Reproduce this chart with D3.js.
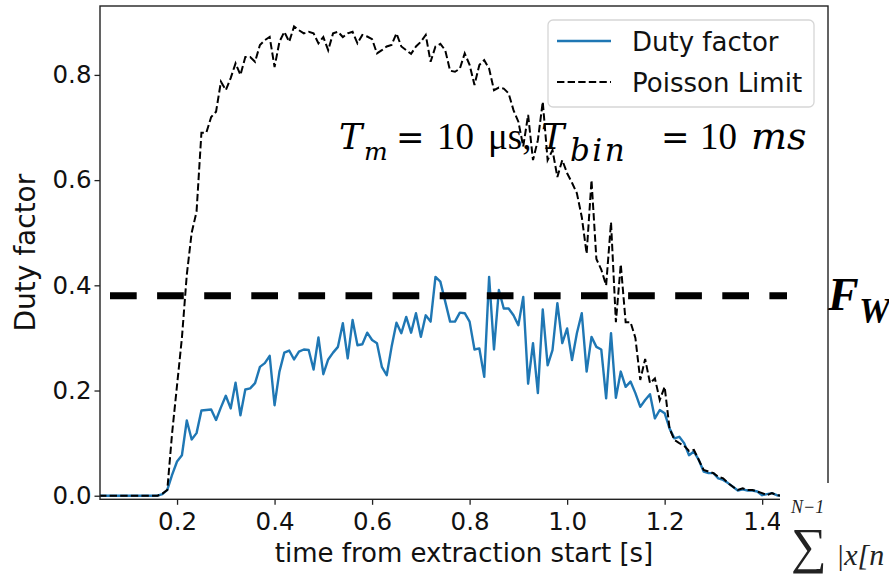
<!DOCTYPE html>
<html>
<head>
<meta charset="utf-8">
<script src="https://cdn.jsdelivr.net/npm/d3@7"></script>
<style>
  body { margin: 0; background: #fff; }
  svg { display: block; font-family: "DejaVu Sans", sans-serif; }
</style>
</head>
<body>
<svg width="889" height="576"></svg>
<script>
// 10 ms bins, first bin at 0.04 s
const binStart = 0.04;
const binWidth = 0.01;

const dutyFactor = [
  0, 0, 0, 0, 0, 0, 0, 0, 0, 0,
  0, 0, 0, 0.003, 0.011, 0.04, 0.065, 0.077, 0.143, 0.107,
  0.119, 0.162, 0.163, 0.164, 0.144, 0.168, 0.19, 0.166, 0.215, 0.153,
  0.202, 0.204, 0.214, 0.245, 0.252, 0.266, 0.172, 0.236, 0.272, 0.276,
  0.259, 0.274, 0.278, 0.277, 0.240, 0.301, 0.231, 0.259, 0.272, 0.283,
  0.328, 0.261, 0.334, 0.286, 0.288, 0.310, 0.296, 0.290, 0.245, 0.229,
  0.283, 0.329, 0.309, 0.340, 0.310, 0.347, 0.302, 0.343, 0.331, 0.416,
  0.407, 0.369, 0.331, 0.331, 0.348, 0.347, 0.331, 0.278, 0.280, 0.226,
  0.416, 0.278, 0.391, 0.356, 0.356, 0.343, 0.324, 0.378, 0.213, 0.290,
  0.195, 0.354, 0.248, 0.277, 0.366, 0.290, 0.318, 0.258, 0.309, 0.347,
  0.236, 0.302, 0.283, 0.278, 0.185, 0.309, 0.186, 0.236, 0.207, 0.217,
  0.195, 0.169, 0.182, 0.193, 0.147, 0.163, 0.157, 0.128, 0.109, 0.112,
  0.100, 0.077, 0.084, 0.068, 0.046, 0.043, 0.043, 0.033, 0.030, 0.024,
  0.017, 0.010, 0.012, 0.010, 0.010, 0.008, 0.001, 0.003, 0.005, 0.001,
  0
];

const poissonLimit = [
  0, 0, 0, 0, 0, 0, 0, 0, 0, 0,
  0, 0, 0, 0.004, 0.011, 0.12, 0.21, 0.30, 0.42, 0.50,
  0.54, 0.69, 0.69, 0.72, 0.73, 0.787, 0.771, 0.794, 0.822, 0.80,
  0.834, 0.834, 0.825, 0.857, 0.866, 0.872, 0.815, 0.863, 0.882, 0.863,
  0.892, 0.885, 0.879, 0.882, 0.879, 0.860, 0.872, 0.847, 0.879, 0.882,
  0.872, 0.879, 0.882, 0.860, 0.876, 0.873, 0.868, 0.841, 0.847, 0.854,
  0.857, 0.879, 0.854, 0.847, 0.840, 0.854, 0.863, 0.876, 0.825, 0.854,
  0.859, 0.847, 0.808, 0.806, 0.812, 0.841, 0.819, 0.781, 0.819, 0.828,
  0.812, 0.771, 0.776, 0.774, 0.765, 0.733, 0.711, 0.664, 0.724, 0.638,
  0.676, 0.749, 0.638, 0.657, 0.606, 0.638, 0.613, 0.595, 0.575, 0.53,
  0.46, 0.60, 0.45, 0.43, 0.40, 0.52, 0.33, 0.44, 0.33, 0.33,
  0.30, 0.22, 0.26, 0.214, 0.223, 0.182, 0.207, 0.128, 0.106, 0.100,
  0.095, 0.085, 0.087, 0.068, 0.049, 0.046, 0.043, 0.036, 0.033, 0.024,
  0.017, 0.011, 0.014, 0.011, 0.011, 0.008, 0.005, 0.001, 0.005, 0.001,
  0
];

const xTicks = [0.2, 0.4, 0.6, 0.8, 1.0, 1.2, 1.4];
const yTicks = [0.0, 0.2, 0.4, 0.6, 0.8];
const xDomain = [0.042, 1.535];
const yDomain = [-0.0068, 0.931];
const fwLevel = 0.38;
const legendLabels = ['Duty factor', 'Poisson Limit'];

const svg = d3.select('svg');
const plot = { left: 100, right: 828, top: 6, bottom: 499.3 };

const x = d3.scaleLinear().domain(xDomain).range([plot.left, plot.right]);
const y = d3.scaleLinear().domain(yDomain).range([plot.bottom, plot.top]);

svg.append('defs').append('clipPath')
  .attr('id', 'clip')
  .append('rect')
  .attr('x', plot.left)
  .attr('y', plot.top)
  .attr('width', plot.right - plot.left)
  .attr('height', plot.bottom - plot.top);

// axes
const xAxisG = svg.append('g')
  .attr('transform', `translate(0,${plot.bottom})`)
  .call(d3.axisBottom(x).tickValues(xTicks).tickFormat(d3.format('.1f')).tickSize(5.5).tickPadding(8));
xAxisG.select('.domain').remove();

const yAxisG = svg.append('g')
  .attr('transform', `translate(${plot.left},0)`)
  .call(d3.axisLeft(y).tickValues(yTicks).tickFormat(d3.format('.1f')).tickSize(5.5).tickPadding(3));
yAxisG.select('.domain').remove();

svg.selectAll('.tick text')
  .attr('font-family', '"DejaVu Sans", sans-serif')
  .attr('font-size', 24.5)
  .attr('fill', '#111');
svg.selectAll('.tick line').attr('stroke', '#222').attr('stroke-width', 1.3);

svg.append('text')
  .attr('x', (plot.left + plot.right) / 2)
  .attr('y', 562)
  .attr('text-anchor', 'middle')
  .attr('font-size', 26)
  .attr('fill', '#111')
  .text('time from extraction start [s]');

svg.append('text')
  .attr('transform', `translate(35,${(plot.top + plot.bottom) / 2})rotate(-90)`)
  .attr('text-anchor', 'middle')
  .attr('font-size', 28)
  .attr('fill', '#111')
  .text('Duty factor');

// lines
const line = d3.line()
  .x((d, i) => x(binStart + i * binWidth))
  .y(d => y(d));

const lines = svg.append('g').attr('clip-path', 'url(#clip)');
lines.append('path')
  .datum(dutyFactor)
  .attr('d', line)
  .attr('fill', 'none')
  .attr('stroke', '#1f77b4')
  .attr('stroke-width', 2.4)
  .attr('stroke-linejoin', 'round');
lines.append('path')
  .datum(poissonLimit)
  .attr('d', line)
  .attr('fill', 'none')
  .attr('stroke', '#000')
  .attr('stroke-width', 2)
  .attr('stroke-dasharray', '7.4,3.2');

// frame
svg.append('rect')
  .attr('x', plot.left)
  .attr('y', plot.top)
  .attr('width', plot.right - plot.left)
  .attr('height', plot.bottom - plot.top)
  .attr('fill', 'none')
  .attr('stroke', '#222')
  .attr('stroke-width', 1.4);

// legend
const legend = svg.append('g');
legend.append('rect')
  .attr('x', 548).attr('y', 20)
  .attr('width', 266).attr('height', 87)
  .attr('rx', 5)
  .attr('fill', 'rgba(255,255,255,0.85)')
  .attr('stroke', '#d6d6d6')
  .attr('stroke-width', 1.3);
legendLabels.forEach((label, i) => {
  const ly = 41 + i * 41;
  const sample = legend.append('line')
    .attr('x1', 557).attr('x2', 611)
    .attr('y1', ly).attr('y2', ly);
  if (i === 0) {
    sample.attr('stroke', '#1f77b4').attr('stroke-width', 2.4);
  } else {
    sample.attr('stroke', '#000').attr('stroke-width', 2).attr('stroke-dasharray', '7.4,3.2');
  }
  legend.append('text')
    .attr('x', 632)
    .attr('y', ly + 9.5)
    .attr('font-size', 26)
    .attr('fill', '#111')
    .text(label);
});

// thick dashed F_W marker
svg.append('line')
  .attr('x1', 110).attr('x2', 787)
  .attr('y1', y(fwLevel)).attr('y2', y(fwLevel))
  .attr('stroke', '#000')
  .attr('stroke-width', 7)
  .attr('stroke-dasharray', '26.7,20.4');

// annotation T_m, T_bin
const mathIt = '"DejaVu Serif", serif';
const mathUp = '"Liberation Serif", "DejaVu Serif", serif';
const note = svg.append('g').attr('fill', '#000');
const noteParts = [
  { t: 'T', x: 339, y: 149, s: 35, f: mathIt, it: true },
  { t: 'm', x: 364, y: 160, s: 25, f: mathIt, it: true },
  { t: '=', x: 396, y: 149, s: 34, f: mathIt, it: false },
  { t: '10', x: 437, y: 149, s: 37, f: mathUp, it: false },
  { t: 'μs,', x: 488, y: 149, s: 37, f: mathUp, it: false },
  { t: 'T', x: 541, y: 149, s: 35, f: mathIt, it: true },
  { t: 'bin', x: 570, y: 161, s: 31, f: mathIt, it: true, ls: 2.5 },
  { t: '=', x: 661, y: 149, s: 34, f: mathIt, it: false },
  { t: '10', x: 700, y: 149, s: 37, f: mathUp, it: false },
  { t: 'ms', x: 751, y: 149, s: 38, f: mathIt, it: true }
];
noteParts.forEach(p => {
  note.append('text')
    .attr('x', p.x).attr('y', p.y)
    .attr('font-family', p.f)
    .attr('font-size', p.s)
    .attr('font-style', p.it ? 'italic' : 'normal')
    .attr('letter-spacing', p.ls || 0)
    .text(p.t);
});

// F_W label
const serif = '"Liberation Serif", "DejaVu Serif", serif';
const fw = svg.append('g').attr('font-family', serif).attr('font-weight', 'bold').attr('font-style', 'italic');
fw.append('text').attr('x', 828).attr('y', 310).attr('font-size', 46).text('F');
fw.append('text').attr('x', 859).attr('y', 323).attr('font-size', 35).text('W');

// cropped formula image in bottom-right corner
svg.append('rect')
  .attr('x', 780).attr('y', 483)
  .attr('width', 109).attr('height', 93)
  .attr('fill', '#fff');
const formula = svg.append('g').attr('font-family', serif).attr('fill', '#222');
formula.append('text').attr('x', 791).attr('y', 513).attr('font-size', 18).attr('font-style', 'italic').text('N−1');
formula.append('text').attr('x', 791).attr('y', 563).attr('font-size', 50).text('∑');
formula.append('text').attr('x', 836).attr('y', 565).attr('font-size', 30).attr('font-style', 'italic').text('|x[n');
</script>
</body>
</html>
